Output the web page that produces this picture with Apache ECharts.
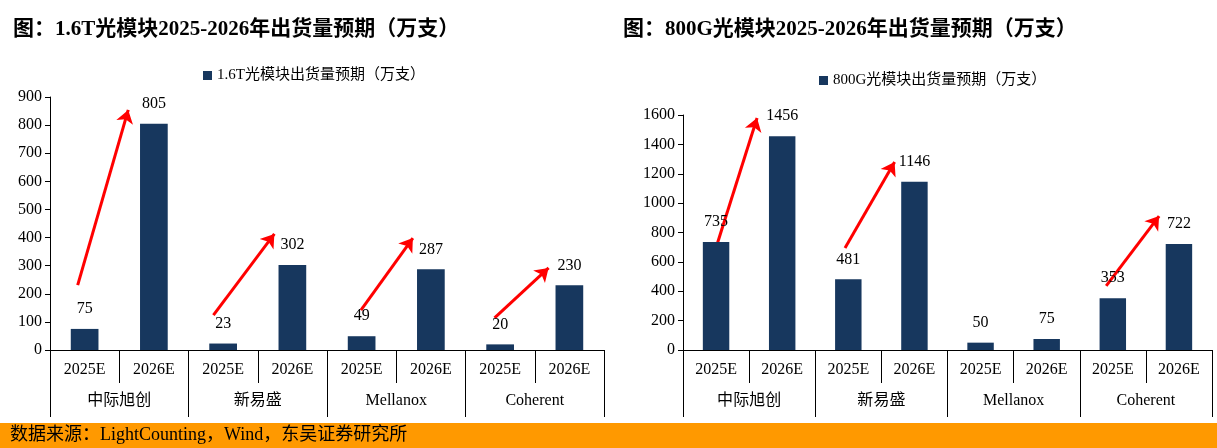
<!DOCTYPE html><html><head><meta charset="utf-8"><script src="https://cdn.jsdelivr.net/npm/echarts@6/dist/echarts.min.js"></script>
<style>html,body{margin:0;padding:0;background:#fff}#c{width:1217px;height:448px}</style></head><body><div id="c"></div>
<script>
const years=['2025E','2026E','2025E','2026E','2025E','2026E','2025E','2026E'];
const companies=['中际旭创','新易盛','Mellanox','Coherent'];
const v16=[75,805,23,302,49,287,20,230];
const v800=[735,1456,481,1146,50,75,353,722];
// arrows: [x0,y0,x1,y1] in category-index / value units
const arrows16=[[-0.1,231,0.63,854],[1.86,124,2.74,413],[3.99,142,4.74,398],[5.92,114,6.7,292]];
const arrows800=[[-0.05,626,0.62,1580],[1.95,695,2.7,1280],[5.9,436,6.7,912]];
const serif='"Liberation Serif","Noto Sans CJK SC",serif';
const grids=[{left:50,right:613,top:97,bottom:98},{left:683,right:5,top:115,bottom:98}];
const xAxis=[],yAxis=[],series=[];
const names=['1.6T光模块出货量预期（万支）','800G光模块出货量预期（万支）'];
[[v16,arrows16,900,100],[v800,arrows800,1600,200]].forEach(([vals,arr,max,iv],g)=>{
 xAxis.push({gridIndex:g,type:'category',data:years,axisLine:{lineStyle:{color:'#000'}},axisTick:{show:true,interval:0,length:33,lineStyle:{color:'#000'}},axisLabel:{color:'#000',fontFamily:serif,fontSize:16,margin:12}});
 xAxis.push({gridIndex:g,type:'category',position:'bottom',data:companies,axisLine:{show:false},axisTick:{show:true,length:67,interval:0,lineStyle:{color:'#000'}},axisLabel:{color:'#000',fontFamily:serif,fontSize:16,margin:43}});
 xAxis.push({gridIndex:g,type:'value',min:-0.5,max:7.5,show:false});
 yAxis.push({gridIndex:g,type:'value',min:0,max:max,interval:iv,splitLine:{show:false},axisLine:{show:true,onZero:false,lineStyle:{color:'#000'}},axisTick:{show:true,lineStyle:{color:'#000'}},axisLabel:{color:'#000',fontFamily:serif,fontSize:16,formatter:v=>String(v)}});
 series.push({name:names[g],type:'bar',xAxisIndex:g*3,yAxisIndex:g,data:vals,barWidth:'40%',itemStyle:{color:'#17375E'},label:{show:true,position:'top',distance:12,color:'#000',fontFamily:serif,fontSize:16}});
 series.push({type:'lines',coordinateSystem:'cartesian2d',xAxisIndex:g*3+2,yAxisIndex:g,data:arr.map(a=>({coords:[[a[0],a[1]],[a[2],a[3]]]})),symbol:['none','arrow'],symbolSize:13,lineStyle:{color:'#FF0000',width:3,opacity:1},silent:true,animation:false});
});
const chart=echarts.init(document.getElementById('c'));
chart.setOption({animation:false,
 title:[{text:'图：1.6T光模块2025-2026年出货量预期（万支）',left:8,top:14,textStyle:{fontFamily:serif,fontSize:21,fontWeight:'bold',color:'#000'}},
        {text:'图：800G光模块2025-2026年出货量预期（万支）',left:618,top:14,textStyle:{fontFamily:serif,fontSize:21,fontWeight:'bold',color:'#000'}}],
 legend:[{data:[names[0]],left:198,top:63,itemWidth:9,itemHeight:9,icon:'rect',textStyle:{fontFamily:serif,fontSize:15,color:'#000'}},
         {data:[names[1]],left:814,top:68,itemWidth:9,itemHeight:9,icon:'rect',textStyle:{fontFamily:serif,fontSize:15,color:'#000'}}],
 grid:grids,xAxis,yAxis,series,
 graphic:[{type:'rect',shape:{x:0,y:423,width:1217,height:25},style:{fill:'#FF9900'}},
          {type:'text',left:10,top:426,style:{text:'数据来源：LightCounting，Wind，东吴证券研究所',font:'18px '+serif,fill:'#000'}}]
});
</script></body></html>
